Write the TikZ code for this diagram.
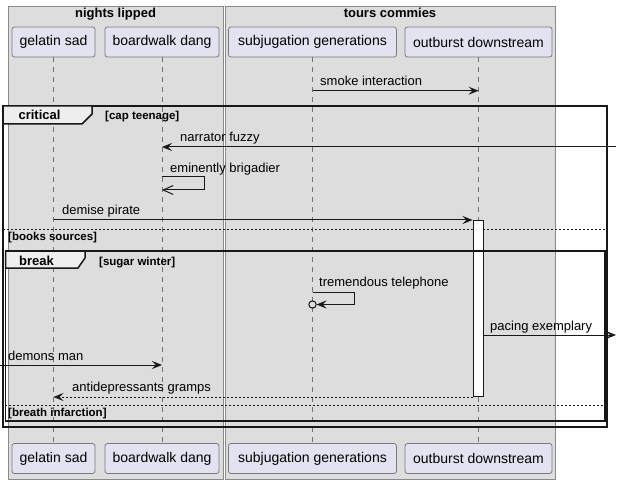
\documentclass[tikz,border=0pt]{standalone}
\usepackage{fontspec}
\setmainfont{Liberation Sans}
\usetikzlibrary{arrows.meta}
\definecolor{grpfill}{HTML}{DDDDDD}
\definecolor{grpline}{HTML}{8A8A8A}
\definecolor{partfill}{HTML}{E2E2F0}
\definecolor{partline}{HTML}{7A7A7A}
\definecolor{tabfill}{HTML}{EEEEEE}
\definecolor{ink}{HTML}{181818}
\begin{document}
\begin{tikzpicture}[x=1bp,y=-1bp,
  partbox/.style={draw=partline, line width=0.8bp, fill=partfill, rounded corners=2.5bp,
    minimum height=30bp, inner sep=0pt, font=\fontsize{14bp}{16bp}\selectfont},
  grpbox/.style={draw=grpline, line width=0.9bp, fill=grpfill},
  grptitle/.style={anchor=base, inner sep=0pt, font=\fontsize{13bp}{15bp}\selectfont\bfseries},
  lifeline/.style={draw=black!55, line width=0.8bp, dash pattern=on 5bp off 5bp},
  msg/.style={draw=ink, line width=1bp, -{Stealth[length=10bp,width=8bp,inset=4bp]}},
  openmsg/.style={draw=ink, line width=1bp, -{Straight Barb[length=10bp,width=9bp]}},
  retmsg/.style={msg, dash pattern=on 2bp off 2bp},
  msglabel/.style={anchor=base west, inner sep=0pt, font=\fontsize{13bp}{15bp}\selectfont},
  frameline/.style={draw=ink, line width=1.5bp},
  tabshape/.style={draw=ink, line width=1.5bp, fill=tabfill},
  tablabel/.style={anchor=base, inner sep=0pt, font=\fontsize{13bp}{15bp}\selectfont\bfseries},
  guardlabel/.style={anchor=base west, inner sep=0pt, font=\fontsize{11.5bp}{13bp}\selectfont\bfseries},
  seprule/.style={draw=ink, line width=0.8bp, dash pattern=on 2bp off 2bp},
  actbox/.style={draw=ink, line width=1bp, fill=white}
]
\useasboundingbox (0,0) rectangle (621,484);

% group boxes
\path[grpbox] (8,6) rectangle (223,479);
\path[grpbox] (225,6) rectangle (555,479);
\node[grptitle] (g1) at (115.5,18) {nights lipped};
\node[grptitle] (g2) at (390,18) {tours commies};

% participants
\node[partbox, minimum width=83bp]  (pA) at (53.5,42) {gelatin sad};
\node[partbox, minimum width=114bp] (pB) at (162,42) {boardwalk dang};
\node[partbox, minimum width=168bp] (pC) at (312.5,42) {subjugation generations};
\node[partbox, minimum width=147bp] (pD) at (478.5,42) {outburst downstream};
\node[partbox, minimum width=83bp]  (qA) at (53.5,458.5) {gelatin sad};
\node[partbox, minimum width=114bp] (qB) at (162,458.5) {boardwalk dang};
\node[partbox, minimum width=168bp] (qC) at (312.5,458.5) {subjugation generations};
\node[partbox, minimum width=147bp] (qD) at (478.5,458.5) {outburst downstream};

% lifelines
\draw[lifeline] (pA.south) -- (qA.north);
\draw[lifeline] (pB.south) -- (qB.north);
\draw[lifeline] (pC.south) -- (qC.north);
\draw[lifeline] (pD.south) -- (qD.north);

% separators
\draw[seprule] (3,229) -- (607,229);
\draw[seprule] (5,405) -- (605,405);

% activation
\node[actbox, minimum width=10bp, minimum height=176bp, inner sep=0pt, anchor=north] (act) at (478,220) {};

% free ends
\coordinate (rightA) at (616,147);
\coordinate (rightB) at (616,335);
\coordinate (leftA) at (0,365);

% messages
\draw[msg] (pC |- 0,90.7) -- (pD |- 0,90.7);
\node[msglabel] (l1) at (320,86) {smoke interaction};

\draw[msg] (rightA) -- (pB |- rightA);
\node[msglabel] (l2) at (180,142) {narrator fuzzy};

\coordinate (sb1) at (pB |- 0,177);
\coordinate (sb2) at (pB |- 0,190);
\draw[openmsg] (sb1) -- (204,177) -- (204,190) -- (sb2);
\node[msglabel] (l3) at (170,172.5) {eminently brigadier};

\draw[msg] (pA |- 0,220) -- (act.north west);
\node[msglabel] (l4) at (62,215) {demise pirate};

\coordinate (tt1) at (pC |- 0,292);
\coordinate (tt2) at (316.5,304.5);
\draw[msg] (tt1) -- (354,292) -- (354,304.5) -- (tt2);
\draw[draw=ink, line width=1bp] (312.5,304.5) circle (3.7bp);
\node[msglabel] (l5) at (319,286.5) {tremendous telephone};

\draw[msg] (act.east |- rightB) -- (rightB);
\node[msglabel] (l6) at (490,330.5) {pacing exemplary};

\draw[msg] (leftA) -- (pB |- leftA);
\node[msglabel] (l7) at (8,360.5) {demons man};

\draw[retmsg] (act.south west) -- (pA |- act.south);
\node[msglabel] (l8) at (72,391) {antidepressants gramps};

% frames
\draw[frameline] (3,106) rectangle (607,427);
\draw[tabshape] (3,106) -- (92,106) -- (92,114) -- (82,124) -- (3,124) -- cycle;
\node[tablabel] (f1) at (39.5,120) {critical};
\node[guardlabel] (f1g) at (105,120) {[cap teenage]};
\node[guardlabel] (f1s) at (8,241) {[books sources]};

\draw[frameline] (5.5,251) rectangle (605,421);
\draw[tabshape] (5.5,251) -- (85,251) -- (85,258) -- (78,268) -- (5.5,268) -- cycle;
\node[tablabel] (f2) at (36.5,265) {break};
\node[guardlabel] (f2g) at (99,265) {[sugar winter]};
\node[guardlabel] (f2s) at (8,416) {[breath infarction]};
\end{tikzpicture}
\end{document}
